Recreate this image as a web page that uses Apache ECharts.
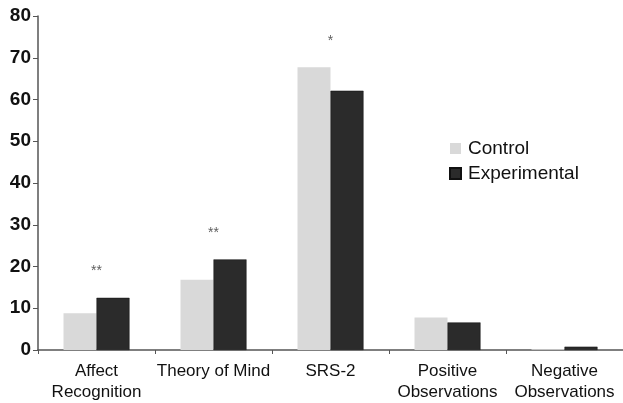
<!DOCTYPE html>
<html>
<head>
<meta charset="utf-8">
<script src="https://cdn.jsdelivr.net/npm/echarts@6/dist/echarts.min.js"></script>
<style>
  html, body { margin: 0; padding: 0; background: #fff; }
  #chart { width: 623px; height: 403px; }
</style>
</head>
<body>
<div id="chart"></div>
<script>
const categories = ['Affect\nRecognition', 'Theory of Mind', 'SRS-2', 'Positive\nObservations', 'Negative\nObservations'];
const controlValues = [8.8, 16.8, 67.7, 7.8, 0.2];
const experimentalValues = [12.5, 21.7, 62.1, 6.6, 0.8];
const sigMarks = ['**', '**', '*', '', ''];
const yTicks = [0, 10, 20, 30, 40, 50, 60, 70, 80];

const chart = echarts.init(document.getElementById('chart'));

// 星号放在每组较高柱子的上方
const sigData = categories.map((c, i) => Math.max(controlValues[i], experimentalValues[i]));

const option = {
  backgroundColor: '#ffffff',
  animation: false,
  textStyle: { fontFamily: 'Liberation Sans, Arial, sans-serif' },
  grid: { left: 38, top: 16, width: 588, bottom: 52 },
  legend: {
    orient: 'vertical',
    left: 444,
    top: 134,
    itemWidth: 11,
    itemHeight: 11,
    itemGap: 6,
    icon: 'rect',
    data: ['Control', 'Experimental'],
    textStyle: { fontSize: 19, color: '#111', padding: [0, 0, 0, 2] },
  },
  xAxis: {
    type: 'category',
    data: categories,
    axisLine: { lineStyle: { color: '#555', width: 1.5 } },
    axisTick: { show: true, length: 4, lineStyle: { color: '#555' } },
    axisLabel: { interval: 0, fontSize: 17, color: '#111', lineHeight: 21, margin: 11 },
  },
  yAxis: {
    type: 'value',
    min: yTicks[0],
    max: yTicks[yTicks.length - 1],
    interval: 10,
    splitLine: { show: false },
    axisLine: { show: true, lineStyle: { color: '#555', width: 1.5 } },
    axisTick: { show: true, length: 5, lineStyle: { color: '#555' } },
    axisLabel: { fontSize: 19, fontWeight: 'bold', color: '#111', margin: 7 },
  },
  series: [
    {
      name: 'Control',
      type: 'bar',
      barWidth: 33,
      barGap: '0%',
      data: controlValues,
      itemStyle: { color: '#d9d9d9' },
    },
    {
      name: 'Experimental',
      type: 'bar',
      barWidth: 33,
      data: experimentalValues,
      itemStyle: { color: '#2b2b2b', borderColor: '#111', borderWidth: 0.5 },
    },
    {
      name: 'sig',
      type: 'scatter',
      symbolSize: 1,
      itemStyle: { color: 'rgba(255,255,255,0)' },
      data: sigData,
      silent: true,
      label: {
        show: true,
        position: 'top',
        distance: 19,
        fontSize: 14,
        color: '#333',
        formatter: (p) => sigMarks[p.dataIndex],
      },
    },
  ],
};

chart.setOption(option);
</script>
</body>
</html>
